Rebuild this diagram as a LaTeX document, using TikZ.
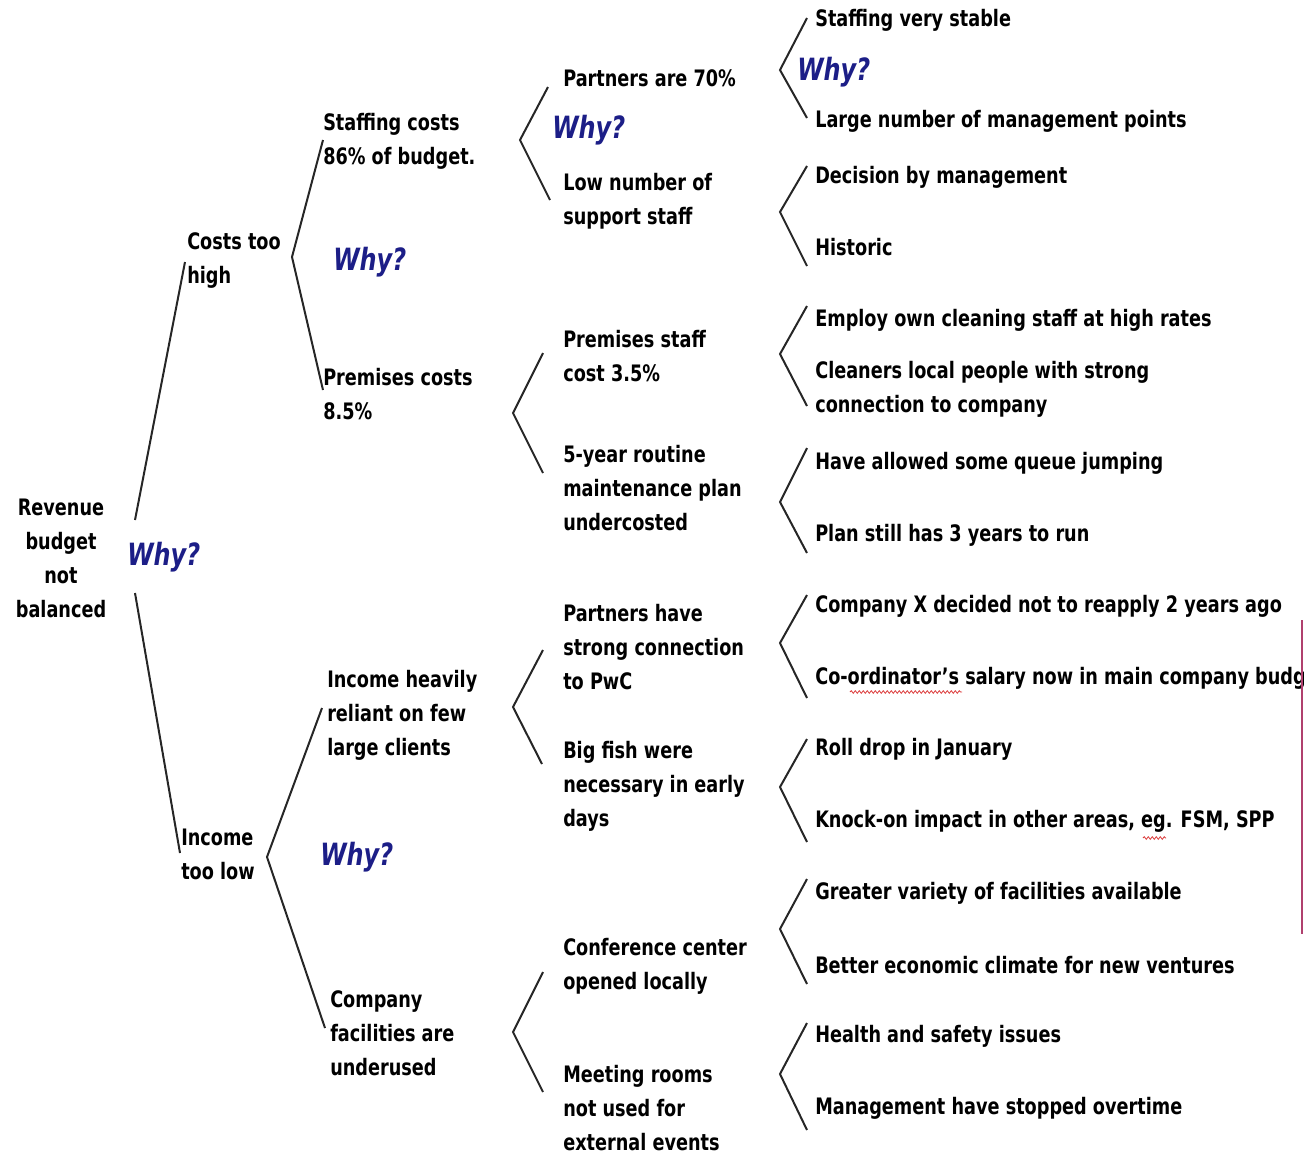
\documentclass[tikz,border=0pt]{standalone}
\usepackage{fontspec}
\setmainfont{DejaVu Sans}[FakeStretch=0.78]
\usetikzlibrary{positioning,decorations.pathmorphing}
\definecolor{whyblue}{RGB}{28,30,135}
\definecolor{edgepink}{RGB}{176,64,110}
\definecolor{spellred}{RGB}{220,60,60}

\begin{document}
\begin{tikzpicture}[x=0.75pt,y=0.75pt,yscale=-1,xscale=1,
  lbl/.style={anchor=west,inner sep=0pt,align=left,font=\bfseries\fontsize{17}{25.5}\selectfont},
  rootlbl/.style={inner sep=0pt,align=center,font=\bfseries\fontsize{17}{25.5}\selectfont},
  why/.style={anchor=west,inner sep=0pt,text=whyblue,font=\bfseries\itshape\fontsize{23}{28}\selectfont},
  link/.style={line width=1.5pt,black!85,line join=miter},
  squiggle/.style={spellred,line width=0.6pt,decorate,decoration={snake,amplitude=1pt,segment length=3pt}}]
\useasboundingbox (0,0) rectangle (1304,1157);

% Text Node: level 0
\node [rootlbl] (root) at (61,558) {Revenue\\budget\\not\\balanced};
\node [why] (why0) at (127,557) {Why?};

% Text Node: level 1
\node [lbl] (costs) at (187,261) {Costs too\\high};
\node [lbl] (income) at (181,854) {Income\\too low};
\node [why] (why1) at (333,262) {Why?};
\node [why] (why2) at (320,857) {Why?};

% Text Node: level 2
\node [lbl] (staffing) at (323,141) {Staffing costs\\86\% of budget.};
\node [lbl] (premises) at (323,394) {Premises costs\\8.5\%};
\node [lbl] (reliant) at (327,715) {Income heavily\\reliant on few\\large clients};
\node [lbl] (facilities) at (330,1033) {Company\\facilities are\\underused};
\node [why] (why3) at (552,130) {Why?};

% Text Node: level 3
\node [lbl] (partners) at (563,78) {Partners are 70\%};
\node [lbl] (support) at (563,201) {Low number of\\support staff};
\node [lbl] (premstaff) at (563,356) {Premises staff\\cost 3.5\%};
\node [lbl] (plan) at (563,488) {5-year routine\\maintenance plan\\undercosted};
\node [lbl] (pwc) at (563,647) {Partners have\\strong connection\\to PwC};
\node [lbl] (bigfish) at (563,786) {Big fish were\\necessary in early\\days};
\node [lbl] (conference) at (563,966) {Conference center\\opened locally};
\node [lbl] (meeting) at (563,1108) {Meeting rooms\\not used for\\external events};
\node [why] (why4) at (797,72) {Why?};

% Text Node: level 4
\node [lbl] (stable) at (815,20) {Staffing very stable};
\node [lbl] (points) at (815,121) {Large number of management points};
\node [lbl] (decision) at (815,177) {Decision by management};
\node [lbl] (historic) at (815,247) {Historic};
\node [lbl] (cleaning) at (815,320) {Employ own cleaning staff at high rates};
\node [lbl] (cleaners) at (815,389) {Cleaners local people with strong\\connection to company};
\node [lbl] (queue) at (815,463) {Have allowed some queue jumping};
\node [lbl] (torun) at (815,535) {Plan still has 3 years to run};
\node [lbl] (reapply) at (815,606) {Company X decided not to reapply 2 years ago};
\node [lbl] (salary) at (815,678) {Co-ordinator’s salary now in main company budg};
\node [lbl] (roll) at (815,749) {Roll drop in January};
\node [lbl] (knock) at (815,821) {Knock-on impact in other areas, eg. FSM, SPP};
\node [lbl] (variety) at (815,893) {Greater variety of facilities available};
\node [lbl] (climate) at (815,965) {Better economic climate for new ventures};
\node [lbl] (health) at (815,1036) {Health and safety issues};
\node [lbl] (overtime) at (815,1108) {Management have stopped overtime};

%Shape: spelling marks
\draw [squiggle] (850,692) -- (962,692);
\draw [squiggle] (1143,838) -- (1166,838);

%Shape: bracket points
\coordinate (t0a) at (135,520); \coordinate (t0b) at (185,262);
\coordinate (b0a) at (135,593); \coordinate (b0b) at (180,853);
\foreach \n/\xa/\ya/\xv/\yv/\xb/\yb in {
    c/323/140/292/257/323/390, i/322/708/267/857/325/1028,
    s/548/87/520/140/550/200, p/543/353/513/413/543/473,
    h/543/650/513/707/542/764, f/543/972/513/1032/543/1092}
  {\coordinate (\n top) at (\xa,\ya);
   \coordinate (\n tip) at (\xv,\yv);
   \coordinate (\n bot) at (\xb,\yb);}
\foreach \n/\ya/\yv/\yb in {1/18/70/118, 2/166/212/266, 3/306/354/406, 4/448/502/553,
    5/595/643/698, 6/739/787/842, 7/879/929/984, 8/1023/1074/1130}
  {\coordinate (k\n top) at (807,\ya);
   \coordinate (k\n tip) at (780,\yv);
   \coordinate (k\n bot) at (807,\yb);}

%Shape: brackets
\draw [link] (t0a) -- (t0b);
\draw [link] (b0a) -- (b0b);
\foreach \n in {c,i,s,p,h,f,k1,k2,k3,k4,k5,k6,k7,k8}
  \draw [link] (\n top) -- (\n tip) -- (\n bot);

%Shape: right edge
\coordinate (edgetop) at (1302,620);
\coordinate (edgebot) at (1302,934);
\draw [edgepink,line width=1.5pt] (edgetop) -- (edgebot);

\end{tikzpicture}
\end{document}
